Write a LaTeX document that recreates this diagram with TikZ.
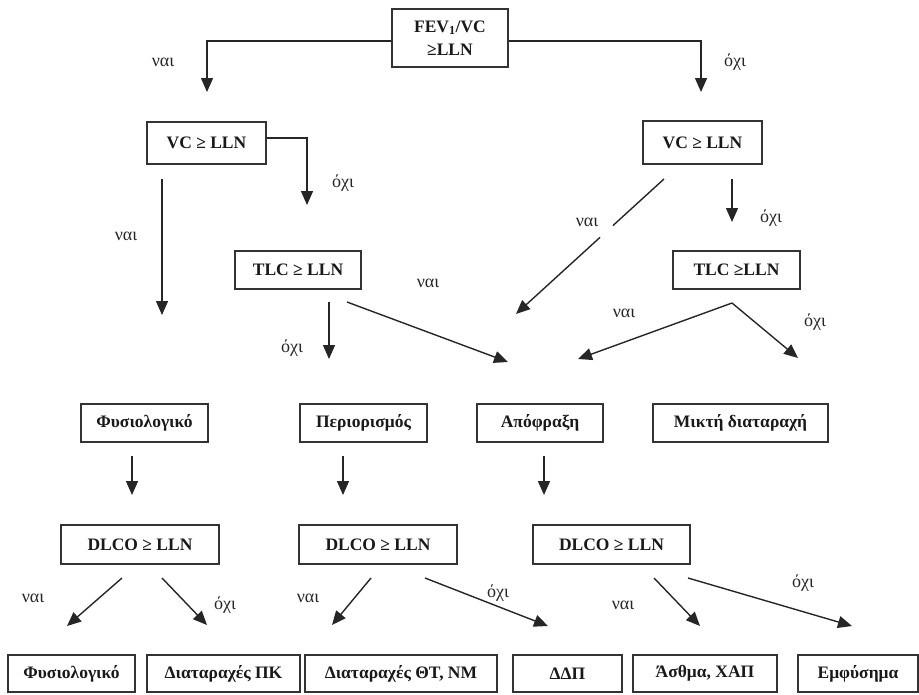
\documentclass[tikz,border=0pt]{standalone}
\usepackage{fontspec}
\setmainfont{Liberation Serif}
\usetikzlibrary{arrows.meta,calc}
\begin{document}
\begin{tikzpicture}[x=1pt,y=-1pt,
  font=\fontsize{18}{23}\selectfont,
  box/.style={draw=black!80,line width=1.8pt,rectangle,inner sep=0pt,align=center,text=black!90,font=\fontsize{17.5}{23}\selectfont\bfseries},
  lbl/.style={inner sep=0pt,text=black!85},
  arr/.style={draw=black!85,line width=1.4pt,-{Triangle[length=14pt,width=12pt]}},
  ln/.style={draw=black!85,line width=1.4pt}]
\useasboundingbox (0,0) rectangle (919,694);
% boxes
\node[box,minimum width=116,minimum height=58] (fev) at (450,38) {FEV\textsubscript{1}/VC\\ ≥LLN};
\node[box,minimum width=119,minimum height=42] (vcl) at (206.5,143) {VC ≥ LLN};
\node[box,minimum width=119,minimum height=43] (vcr) at (702.5,142.5) {VC ≥ LLN};
\node[box,minimum width=126,minimum height=38] (tlcl) at (298,270) {TLC ≥ LLN};
\node[box,minimum width=127,minimum height=38] (tlcr) at (736.5,270) {TLC ≥LLN};
\node[box,minimum width=127,minimum height=38] (fys) at (144.5,423) {Φυσιολογικό};
\node[box,minimum width=127,minimum height=38] (per) at (363.5,423) {Περιορισμός};
\node[box,minimum width=126,minimum height=38] (apo) at (540,423) {Απόφραξη};
\node[box,minimum width=175,minimum height=38] (mix) at (740.5,423) {Μικτή διαταραχή};
\node[box,minimum width=158,minimum height=39] (d1) at (140,544.5) {DLCO ≥ LLN};
\node[box,minimum width=158,minimum height=39] (d2) at (378,544.5) {DLCO ≥ LLN};
\node[box,minimum width=157,minimum height=39] (d3) at (611.5,544.5) {DLCO ≥ LLN};
\node[box,minimum width=127,minimum height=37] (r1) at (71.5,673.5) {Φυσιολογικό};
\node[box,minimum width=153,minimum height=37] (r2) at (223.5,673.5) {Διαταραχές ΠΚ};
\node[box,minimum width=192,minimum height=37] (r3) at (401,673.5) {Διαταραχές ΘΤ, ΝΜ};
\node[box,minimum width=109,minimum height=37] (r4) at (567.5,673.5) {ΔΔΠ};
\node[box,minimum width=144,minimum height=37] (r5) at (705,673.5) {Άσθμα, ΧΑΠ};
\node[box,minimum width=120,minimum height=37] (r6) at (858,673.5) {Εμφύσημα};
% coordinates
\coordinate (tA) at (207,92);
\coordinate (tB) at (701,92);
\coordinate (s1) at (162,179); \coordinate (t1) at (162,315);
\coordinate (t2) at (307,205);
\coordinate (s3) at (329,302); \coordinate (t3) at (329,359);
\coordinate (s4) at (347,302); \coordinate (t4) at (508,362);
\coordinate (s5) at (664,179); \coordinate (t5) at (516,314);
\coordinate (s6) at (732,179); \coordinate (t6) at (732,222);
\coordinate (s7) at (732,303); \coordinate (t7) at (578,359); \coordinate (t8) at (798,358);
\coordinate (s9) at (132,456); \coordinate (t9) at (132,495);
\coordinate (s10) at (343,456); \coordinate (t10) at (343,495);
\coordinate (s11) at (544,456); \coordinate (t11) at (544,495);
\coordinate (a1) at (122,578); \coordinate (b1) at (67,626);
\coordinate (a2) at (162,578); \coordinate (b2) at (207,625);
\coordinate (a3) at (371,578); \coordinate (b3) at (332,625);
\coordinate (a4) at (425,578); \coordinate (b4) at (548,626);
\coordinate (a5) at (654,578); \coordinate (b5) at (700,626);
\coordinate (a6) at (688,578); \coordinate (b6) at (852,626);
% connectors
\draw[arr] ([yshift=-3pt]fev.west) -| (tA);
\draw[arr] ([yshift=-3pt]fev.east) -| (tB);
\draw[arr] (s1) -- (t1);
\draw[arr] ([yshift=5pt]vcl.east) -| (t2);
\draw[arr] (s3) -- (t3);
\draw[arr] (s4) -- (t4);
\draw[ln] (s5) -- ($(s5)!0.345!(t5)$);
\draw[arr] ($(s5)!0.432!(t5)$) -- (t5);
\draw[arr] (s6) -- (t6);
\draw[arr] (s7) -- (t7);
\draw[arr] (s7) -- (t8);
\draw[arr] (s9) -- (t9);
\draw[arr] (s10) -- (t10);
\draw[arr,line width=1.9pt] (s11) -- (t11);
\draw[arr] (a1) -- (b1);
\draw[arr] (a2) -- (b2);
\draw[arr] (a3) -- (b3);
\draw[arr] (a4) -- (b4);
\draw[arr] (a5) -- (b5);
\draw[arr] (a6) -- (b6);
% labels
\node[lbl] (l1) at (163,62) {ναι};
\node[lbl] (l2) at (735,62) {όχι};
\node[lbl] (l3) at (126,236) {ναι};
\node[lbl] (l4) at (343,183) {όχι};
\node[lbl] (l5) at (292,348) {όχι};
\node[lbl] (l6) at (428,283) {ναι};
\node[lbl] (l7) at (587,222) {ναι};
\node[lbl] (l8) at (771,218) {όχι};
\node[lbl] (l9) at (624,313) {ναι};
\node[lbl] (l10) at (815,322) {όχι};
\node[lbl] (l11) at (33,598) {ναι};
\node[lbl] (l12) at (225,605) {όχι};
\node[lbl] (l13) at (308,598) {ναι};
\node[lbl] (l14) at (498,593) {όχι};
\node[lbl] (l15) at (623,605) {ναι};
\node[lbl] (l16) at (803,583) {όχι};
\end{tikzpicture}
\end{document}
